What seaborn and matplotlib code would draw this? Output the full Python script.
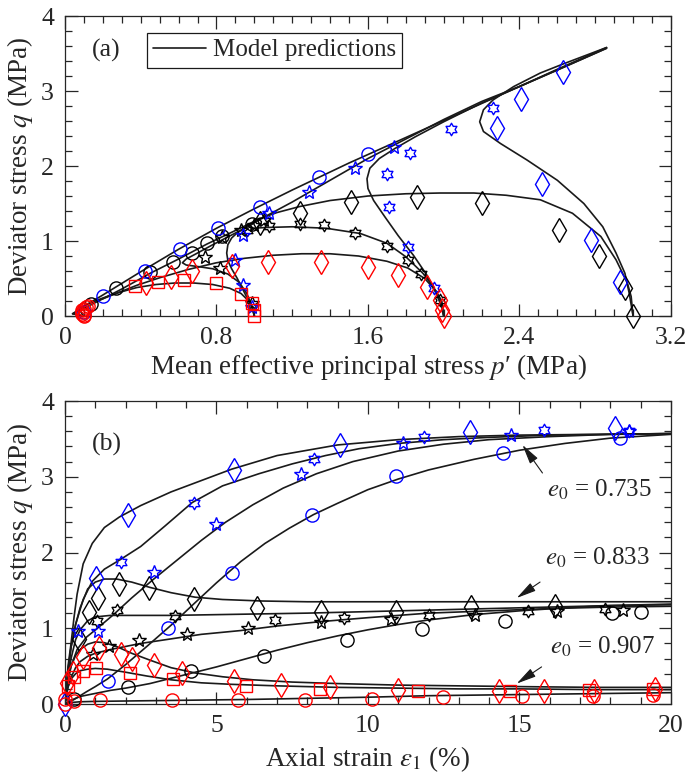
import numpy as np
import matplotlib
matplotlib.use("Agg")
import matplotlib.pyplot as plt
import matplotlib.path as mpath
from matplotlib.lines import Line2D
from matplotlib.ticker import MultipleLocator, FormatStrFormatter
import seaborn as sns

# ---------------- (a) stress paths : measured points ----------------
pa_blue_circle = [0.10, 0.20, 0.42, 0.61, 0.81, 1.03, 1.34, 1.60]
qa_blue_circle = [0.05, 0.27, 0.60, 0.89, 1.17, 1.46, 1.86, 2.16]
pa_blue_pent = [0.99, 0.94, 0.90, 0.94, 1.08, 1.29, 1.53, 1.74]
qa_blue_pent = [0.12, 0.41, 0.75, 1.08, 1.37, 1.66, 1.97, 2.26]
pa_blue_hexa = [1.95, 1.81, 1.71, 1.70, 1.82, 2.04, 2.26]
qa_blue_hexa = [0.37, 0.92, 1.46, 1.89, 2.17, 2.50, 2.78]
pa_blue_dia = [2.93, 2.78, 2.52, 2.28, 2.41, 2.63]
qa_blue_dia = [0.46, 1.01, 1.76, 2.51, 2.90, 3.26]

pa_black_circle = [0.14, 0.27, 0.45, 0.57, 0.67, 0.75, 0.83, 0.99]
qa_black_circle = [0.16, 0.37, 0.59, 0.72, 0.84, 0.97, 1.07, 1.23]
pa_black_pent = [0.99, 0.82, 0.74, 0.83, 0.93, 1.00, 1.05]
qa_black_pent = [0.17, 0.64, 0.79, 1.05, 1.15, 1.22, 1.28]
pa_black_hexa = [1.98, 1.88, 1.81, 1.70, 1.53, 1.37, 1.24, 1.08, 0.96]
qa_black_hexa = [0.22, 0.56, 0.75, 0.94, 1.11, 1.21, 1.23, 1.20, 1.15]
pa_black_dia = [3.00, 2.96, 2.82, 2.61, 2.20, 1.86, 1.51, 1.24, 1.03]
qa_black_dia = [0.00, 0.37, 0.80, 1.15, 1.51, 1.59, 1.52, 1.37, 1.24]

pa_red_circle = [0.10, 0.10, 0.09, 0.09, 0.10, 0.11, 0.12, 0.09]
qa_red_circle = [0.00, 0.02, 0.05, 0.08, 0.10, 0.12, 0.14, 0.03]
pa_red_square = [0.37, 0.49, 0.63, 0.80, 0.93, 0.99, 1.00, 1.00]
qa_red_square = [0.40, 0.45, 0.48, 0.44, 0.30, 0.17, 0.08, 0.00]
pa_red_dia = [0.43, 0.56, 0.67, 0.88, 1.07, 1.35, 1.60, 1.76, 1.91, 1.98, 1.99, 2.00]
qa_red_dia = [0.44, 0.52, 0.60, 0.67, 0.72, 0.72, 0.66, 0.55, 0.39, 0.22, 0.08, 0.00]

# ---------------- (a) model predictions ----------------
pm_blue_circle = [0.10, 0.06, 0.04, 0.10, 0.20, 0.40, 0.60, 0.80, 1.00, 1.20, 1.50, 1.80, 2.10, 2.40, 2.60, 2.86]
qm_blue_circle = [0.00, 0.02, 0.03, 0.13, 0.28, 0.59, 0.89, 1.17, 1.43, 1.68, 2.04, 2.38, 2.72, 3.06, 3.29, 3.58]
pm_blue_pent = [1.00, 0.99, 0.97, 0.94, 0.91, 0.88, 0.86, 0.854, 0.86, 0.88, 0.91, 0.96, 1.06, 1.20, 1.40, 1.60, 1.80, 2.00, 2.20, 2.40, 2.60, 2.86]
qm_blue_pent = [0.00, 0.10, 0.20, 0.35, 0.50, 0.63, 0.74, 0.84, 0.95, 1.04, 1.11, 1.19, 1.33, 1.52, 1.81, 2.10, 2.36, 2.62, 2.86, 3.06, 3.28, 3.57]
pm_blue_hexa = [2.00, 1.99, 1.96, 1.91, 1.84, 1.76, 1.69, 1.63, 1.60, 1.595, 1.61, 1.66, 1.74, 1.85, 2.00, 2.20, 2.40, 2.60, 2.86]
qm_blue_hexa = [0.00, 0.12, 0.30, 0.55, 0.81, 1.07, 1.32, 1.54, 1.70, 1.83, 1.97, 2.10, 2.23, 2.39, 2.59, 2.84, 3.06, 3.28, 3.57]
pm_blue_dia = [3.00, 2.98, 2.957, 2.91, 2.84, 2.74, 2.60, 2.44, 2.30, 2.21, 2.19, 2.21, 2.26, 2.37, 2.51, 2.63, 2.86]
qm_blue_dia = [0.00, 0.30, 0.57, 0.84, 1.19, 1.50, 1.81, 2.08, 2.30, 2.46, 2.59, 2.75, 2.88, 3.06, 3.24, 3.36, 3.58]

pm_black_circle = [0.10, 0.06, 0.04, 0.10, 0.20, 0.30, 0.45, 0.60, 0.75, 0.90, 1.03]
qm_black_circle = [0.00, 0.02, 0.03, 0.10, 0.23, 0.36, 0.57, 0.76, 0.96, 1.14, 1.30]
pm_black_pent = [1.00, 0.99, 0.96, 0.92, 0.86, 0.78, 0.70, 0.64, 0.62, 0.64, 0.70, 0.78, 0.88, 0.97, 1.03]
qm_black_pent = [0.00, 0.12, 0.30, 0.45, 0.56, 0.63, 0.66, 0.68, 0.71, 0.76, 0.84, 0.95, 1.08, 1.20, 1.30]
pm_black_hexa = [2.00, 1.99, 1.945, 1.89, 1.80, 1.70, 1.56, 1.38, 1.20, 1.06, 0.99, 0.97, 1.00, 1.03]
qm_black_hexa = [0.00, 0.20, 0.39, 0.57, 0.79, 0.97, 1.10, 1.17, 1.19, 1.18, 1.17, 1.19, 1.25, 1.30]
pm_black_dia = [3.00, 2.99, 2.97, 2.91, 2.83, 2.68, 2.51, 2.33, 2.16, 1.98, 1.80, 1.60, 1.40, 1.24, 1.12, 1.03]
qm_black_dia = [0.00, 0.26, 0.44, 0.75, 1.06, 1.37, 1.55, 1.61, 1.64, 1.64, 1.63, 1.60, 1.54, 1.46, 1.38, 1.30]

pm_red_circle = [0.10, 0.09, 0.08, 0.09, 0.12, 0.16]
qm_red_circle = [0.00, 0.03, 0.07, 0.11, 0.16, 0.20]
pm_red_square = [1.00, 0.99, 0.97, 0.93, 0.87, 0.78, 0.68, 0.58, 0.48, 0.38, 0.28, 0.20, 0.16]
qm_red_square = [0.00, 0.10, 0.20, 0.30, 0.37, 0.42, 0.44, 0.44, 0.42, 0.38, 0.31, 0.24, 0.20]
pm_red_dia = [2.00, 1.99, 1.96, 1.90, 1.81, 1.70, 1.55, 1.40, 1.25, 1.10, 0.95, 0.80, 0.65, 0.50, 0.38, 0.28, 0.20, 0.16]
qm_red_dia = [0.00, 0.15, 0.33, 0.50, 0.64, 0.73, 0.80, 0.83, 0.83, 0.81, 0.77, 0.71, 0.62, 0.51, 0.41, 0.31, 0.23, 0.20]

# ---------------- (b) stress-strain : measured points ----------------
eb_blue_dia = [0.00, 1.01, 2.07, 5.58, 9.07, 13.38, 18.16]
qb_blue_dia = [0.00, 1.67, 2.49, 3.09, 3.42, 3.59, 3.65]
eb_blue_hexa = [1.84, 4.25, 8.23, 11.86, 15.80, 18.60]
qb_blue_hexa = [1.87, 2.65, 3.24, 3.53, 3.62, 3.61]
eb_blue_pent = [0.43, 1.09, 2.94, 5.00, 7.78, 11.16, 14.71, 18.60]
qb_blue_pent = [0.97, 0.97, 1.74, 2.38, 3.04, 3.45, 3.55, 3.61]
eb_blue_circle = [1.42, 3.41, 5.51, 8.16, 10.91, 14.46, 18.33]
qb_blue_circle = [0.31, 1.01, 1.73, 2.49, 3.01, 3.31, 3.51]

eb_black_dia = [0.45, 0.79, 1.10, 1.79, 2.78, 4.27, 6.35, 8.45, 10.94, 13.41, 16.16]
qb_black_dia = [0.86, 1.21, 1.40, 1.58, 1.53, 1.38, 1.27, 1.22, 1.22, 1.28, 1.29]
eb_black_hexa = [1.05, 1.73, 3.63, 6.94, 9.20, 12.00, 15.29, 17.83]
qb_black_hexa = [1.10, 1.24, 1.16, 1.11, 1.14, 1.17, 1.23, 1.26]
eb_black_pent = [0.93, 1.46, 2.44, 4.02, 6.05, 8.45, 10.77, 13.52, 16.23, 18.41]
qb_black_pent = [0.66, 0.77, 0.85, 0.92, 1.00, 1.08, 1.12, 1.18, 1.23, 1.24]
eb_black_circle = [0.30, 2.07, 4.16, 6.57, 9.32, 11.78, 14.52, 18.07, 19.01]
qb_black_circle = [0.07, 0.23, 0.44, 0.64, 0.85, 0.99, 1.09, 1.20, 1.21]

eb_red_dia = [0.06, 0.25, 0.60, 1.12, 1.84, 2.22, 2.95, 3.85, 5.58, 7.13, 8.74, 10.99, 14.32, 15.81, 17.45, 19.49]
qb_red_dia = [0.28, 0.41, 0.62, 0.74, 0.66, 0.60, 0.51, 0.41, 0.31, 0.25, 0.22, 0.19, 0.17, 0.17, 0.17, 0.20]
eb_red_square = [0.11, 0.31, 0.58, 1.01, 2.15, 3.57, 5.97, 8.43, 11.64, 14.68, 17.29, 19.42]
qb_red_square = [0.24, 0.36, 0.43, 0.48, 0.41, 0.33, 0.24, 0.20, 0.17, 0.17, 0.19, 0.20]
eb_red_circle = [0.00, 0.00, 0.29, 1.16, 3.52, 5.72, 7.93, 10.14, 12.49, 15.10, 17.43, 19.42]
qb_red_circle = [0.00, 0.07, 0.04, 0.05, 0.05, 0.05, 0.05, 0.07, 0.09, 0.10, 0.11, 0.12]

# ---------------- (b) model predictions ----------------
em_blue_dia = [0, 0.05, 0.1, 0.2, 0.3, 0.4, 0.6, 0.9, 1.3, 1.8, 2.5, 3.5, 4.5, 5.5, 7, 9, 11, 13, 15, 17.5, 20]
qm2_blue_dia = [0, 0.25, 0.50, 0.80, 1.15, 1.45, 1.85, 2.12, 2.33, 2.47, 2.62, 2.80, 2.95, 3.10, 3.28, 3.42, 3.49, 3.53, 3.55, 3.56, 3.57]
em_blue_hexa = [0, 0.05, 0.1, 0.2, 0.35, 0.6, 0.9, 1.3, 1.8, 2.5, 3.3, 4.2, 5.2, 6.4, 7.5, 8.6, 9.7, 11, 12.5, 14, 16, 18, 20]
qm2_blue_hexa = [0, 0.20, 0.40, 0.75, 1.05, 1.38, 1.62, 1.78, 1.90, 2.08, 2.35, 2.66, 2.88, 3.04, 3.17, 3.28, 3.37, 3.44, 3.49, 3.52, 3.55, 3.56, 3.57]
em_blue_pent = [0, 0.05, 0.1, 0.2, 0.4, 0.7, 1.1, 1.6, 2.2, 2.9, 3.7, 4.5, 5.3, 6.2, 7.2, 8.3, 9.5, 11, 12.5, 14, 16, 18, 20]
qm2_blue_pent = [0, 0.15, 0.30, 0.50, 0.72, 0.88, 1.01, 1.18, 1.40, 1.64, 1.90, 2.16, 2.40, 2.63, 2.85, 3.04, 3.20, 3.34, 3.43, 3.49, 3.53, 3.56, 3.57]
em_blue_circle = [0, 0.3, 0.7, 1.0, 1.4, 2.0, 2.7, 3.5, 4.3, 5.0, 5.8, 6.6, 7.4, 8.2, 9.0, 10, 11, 12, 13.5, 15, 16.5, 18, 20]
qm2_blue_circle = [0, 0.06, 0.16, 0.23, 0.33, 0.52, 0.76, 1.04, 1.34, 1.60, 1.88, 2.12, 2.32, 2.50, 2.65, 2.83, 2.97, 3.09, 3.23, 3.35, 3.44, 3.51, 3.56]

em_black_dia = [0, 0.05, 0.1, 0.2, 0.35, 0.5, 0.75, 1.0, 1.3, 1.7, 2.2, 2.8, 3.5, 4.3, 5.2, 6.5, 8, 10, 13, 16, 20]
qm2_black_dia = [0, 0.25, 0.45, 0.75, 1.05, 1.27, 1.52, 1.61, 1.65, 1.65, 1.61, 1.54, 1.47, 1.41, 1.38, 1.36, 1.35, 1.35, 1.35, 1.35, 1.35]
em_black_hexa = [0, 0.05, 0.1, 0.2, 0.35, 0.5, 0.75, 1.0, 1.5, 2.5, 3.5, 5, 6.5, 8, 10, 12, 14, 16, 18, 20]
qm2_black_hexa = [0, 0.20, 0.35, 0.60, 0.85, 0.98, 1.10, 1.15, 1.17, 1.17, 1.17, 1.18, 1.19, 1.20, 1.22, 1.24, 1.26, 1.28, 1.30, 1.31]
em_black_pent = [0, 0.05, 0.1, 0.2, 0.35, 0.5, 0.75, 1.0, 1.5, 2.5, 3.5, 4.5, 5.8, 7, 8.5, 10, 12, 14, 16, 18, 20]
qm2_black_pent = [0, 0.12, 0.22, 0.35, 0.48, 0.56, 0.63, 0.67, 0.72, 0.80, 0.86, 0.92, 0.97, 1.03, 1.09, 1.14, 1.20, 1.23, 1.26, 1.28, 1.29]
em_black_circle = [0, 0.2, 0.5, 1.0, 1.5, 2.0, 2.8, 3.5, 4.2, 5, 6, 7, 8, 9, 10, 11, 12, 13.5, 15, 16.5, 18, 20]
qm2_black_circle = [0, 0.05, 0.10, 0.14, 0.18, 0.21, 0.27, 0.34, 0.41, 0.49, 0.60, 0.71, 0.81, 0.90, 0.98, 1.05, 1.11, 1.18, 1.23, 1.27, 1.30, 1.32]

em_red_dia = [0, 0.05, 0.1, 0.2, 0.35, 0.5, 0.75, 1.0, 1.3, 1.7, 2.2, 2.8, 3.5, 4.3, 5.2, 6.2, 7.5, 9, 11, 13, 15, 17.5, 20]
qm2_red_dia = [0, 0.20, 0.33, 0.50, 0.64, 0.72, 0.79, 0.82, 0.81, 0.76, 0.67, 0.58, 0.48, 0.41, 0.36, 0.32, 0.29, 0.27, 0.25, 0.24, 0.23, 0.22, 0.22]
em_red_square = [0, 0.05, 0.1, 0.2, 0.35, 0.5, 0.75, 1.0, 1.4, 2.0, 2.7, 3.5, 4.5, 5.5, 7, 9, 11, 13, 15, 17.5, 20]
qm2_red_square = [0, 0.14, 0.23, 0.33, 0.40, 0.44, 0.46, 0.47, 0.46, 0.42, 0.37, 0.32, 0.28, 0.26, 0.24, 0.22, 0.21, 0.20, 0.20, 0.19, 0.19]
em_red_circle = [0, 0.2, 0.5, 1, 2, 3, 4, 5, 6, 8, 10, 12, 14, 16, 18, 20]
qm2_red_circle = [0, 0.02, 0.03, 0.035, 0.04, 0.045, 0.05, 0.055, 0.06, 0.075, 0.09, 0.11, 0.12, 0.13, 0.14, 0.15]

e0_labels = ["0.735", "0.833", "0.907"]

# ---------------- style ----------------
sns.set_theme(style="ticks")
plt.rcParams["font.family"] = ["Liberation Serif", "DejaVu Serif"]
plt.rcParams["mathtext.fontset"] = "stix"
plt.rcParams["axes.edgecolor"] = "#262626"
plt.rcParams["axes.linewidth"] = 0.9

# six-pointed star (hexagram) marker
ang = np.deg2rad(np.arange(12) * 30 + 90)
rad = np.where(np.arange(12) % 2 == 0, 1.0, 0.577)
hexagram = mpath.Path(np.column_stack([rad * np.cos(ang), rad * np.sin(ang)]).tolist() + [[0, 1]], closed=True)

BLUE, RED, BLACK = "#0000ff", "#ff0000", "#000000"
LW = 1.2
LABEL_FS = 19.5


def pts(ax, x, y, color, marker, ms):
    ax.plot(x, y, ls="none", marker=marker, ms=ms, mfc="none", mec=color, mew=1.0, clip_on=False, zorder=3)


def curve(ax, x, y):
    sns.lineplot(x=x, y=y, sort=False, estimator=None, color="k", lw=LW, ax=ax, zorder=2)


def style_axes(ax, xmaj, xmin, ymaj, ymin):
    ax.xaxis.set_major_locator(MultipleLocator(xmaj))
    ax.xaxis.set_minor_locator(MultipleLocator(xmin))
    ax.yaxis.set_major_locator(MultipleLocator(ymaj))
    ax.yaxis.set_minor_locator(MultipleLocator(ymin))
    ax.xaxis.set_major_formatter(FormatStrFormatter("%g"))
    ax.yaxis.set_major_formatter(FormatStrFormatter("%g"))
    ax.tick_params(which="both", direction="in", top=True, right=True, labelsize=18.5, color="#262626", width=0.9)
    ax.tick_params(which="major", length=9, pad=8)
    ax.tick_params(which="minor", length=5)
    for s in ax.spines.values():
        s.set_visible(True)


fig = plt.figure(figsize=(6.87, 7.82), dpi=100)
ax1 = fig.add_axes([0.0946, 0.5959, 0.882, 0.3836])
ax2 = fig.add_axes([0.0946, 0.0997, 0.882, 0.3875])

# ---------------- panel (a) ----------------
for x, y in [(pm_blue_circle, qm_blue_circle), (pm_blue_pent, qm_blue_pent), (pm_blue_hexa, qm_blue_hexa),
             (pm_blue_dia, qm_blue_dia), (pm_black_circle, qm_black_circle), (pm_black_pent, qm_black_pent),
             (pm_black_hexa, qm_black_hexa), (pm_black_dia, qm_black_dia), (pm_red_circle, qm_red_circle),
             (pm_red_square, qm_red_square), (pm_red_dia, qm_red_dia)]:
    curve(ax1, x, y)

pts(ax1, pa_black_circle, qa_black_circle, BLACK, "o", 9.5)
pts(ax1, pa_black_pent, qa_black_pent, BLACK, "*", 10)
pts(ax1, pa_black_hexa, qa_black_hexa, BLACK, hexagram, 9)
pts(ax1, pa_black_dia, qa_black_dia, BLACK, "d", 12)
pts(ax1, pa_blue_circle, qa_blue_circle, BLUE, "o", 9.5)
pts(ax1, pa_blue_pent, qa_blue_pent, BLUE, "*", 10)
pts(ax1, pa_blue_hexa, qa_blue_hexa, BLUE, hexagram, 9)
pts(ax1, pa_blue_dia, qa_blue_dia, BLUE, "d", 12)
pts(ax1, pa_red_circle, qa_red_circle, RED, "o", 9.5)
pts(ax1, pa_red_square, qa_red_square, RED, "s", 8)
pts(ax1, pa_red_dia, qa_red_dia, RED, "d", 12)

ax1.set_xlim(0, 3.2)
ax1.set_ylim(0, 4)
style_axes(ax1, 0.8, 0.1, 1, 0.2)
ax1.set_xlabel("Mean effective principal stress $p$\u2032 (MPa)", fontsize=LABEL_FS, labelpad=2)
ax1.set_ylabel("Deviator stress $q$ (MPa)", fontsize=LABEL_FS, labelpad=4)
ax1.text(0.045, 0.885, "(a)", transform=ax1.transAxes, fontsize=18.5, va="center")
leg = ax1.legend(handles=[Line2D([], [], color="k", lw=LW)], labels=["Model predictions"],
                 loc="upper left", bbox_to_anchor=(0.135, 0.945), borderaxespad=0, fontsize=18,
                 fancybox=False, edgecolor="k", framealpha=1, borderpad=0.25,
                 handlelength=2.1, handletextpad=0.3)
leg.get_frame().set_linewidth(0.9)

# ---------------- panel (b) ----------------
for x, y in [(em_blue_dia, qm2_blue_dia), (em_blue_hexa, qm2_blue_hexa), (em_blue_pent, qm2_blue_pent),
             (em_blue_circle, qm2_blue_circle), (em_black_dia, qm2_black_dia), (em_black_hexa, qm2_black_hexa),
             (em_black_pent, qm2_black_pent), (em_black_circle, qm2_black_circle), (em_red_dia, qm2_red_dia),
             (em_red_square, qm2_red_square), (em_red_circle, qm2_red_circle)]:
    curve(ax2, x, y)

pts(ax2, eb_black_circle, qb_black_circle, BLACK, "o", 9.5)
pts(ax2, eb_black_pent, qb_black_pent, BLACK, "*", 10)
pts(ax2, eb_black_hexa, qb_black_hexa, BLACK, hexagram, 9)
pts(ax2, eb_black_dia, qb_black_dia, BLACK, "d", 12)
pts(ax2, eb_blue_circle, qb_blue_circle, BLUE, "o", 9.5)
pts(ax2, eb_blue_pent, qb_blue_pent, BLUE, "*", 10)
pts(ax2, eb_blue_hexa, qb_blue_hexa, BLUE, hexagram, 9)
pts(ax2, eb_blue_dia, qb_blue_dia, BLUE, "d", 12)
pts(ax2, eb_red_circle, qb_red_circle, RED, "o", 9.5)
pts(ax2, eb_red_square, qb_red_square, RED, "s", 8)
pts(ax2, eb_red_dia, qb_red_dia, RED, "d", 12)

ax2.set_xlim(0, 20)
ax2.set_ylim(0, 4)
style_axes(ax2, 5, 1, 1, 0.2)
ax2.set_xlabel(r"Axial strain $\epsilon_1$ (%)", fontsize=LABEL_FS, labelpad=5)
ax2.set_ylabel("Deviator stress $q$ (MPa)", fontsize=LABEL_FS, labelpad=4)
ax2.text(0.045, 0.855, "(b)", transform=ax2.transAxes, fontsize=18.5, va="center")

# e0 annotations: (text x, text y, arrow tail, arrow head)
ann = [((15.9, 2.74), (15.76, 3.05), (15.1, 3.42)),
       ((15.85, 1.84), (15.68, 1.61), (14.91, 1.40)),
       ((16.0, 0.67), (15.73, 0.49), (14.91, 0.27))]
for lab, (txy, tail, head) in zip(e0_labels, ann):
    ax2.text(txy[0], txy[1], r"$e_0$ = " + lab, fontsize=18, va="baseline")
    ax2.annotate("", xy=head, xytext=tail,
                 arrowprops=dict(arrowstyle="-|>,head_length=0.75,head_width=0.18", color="k",
                                 lw=0.8, mutation_scale=16, shrinkA=0, shrinkB=0))

fig.savefig("out.png", dpi=100)
